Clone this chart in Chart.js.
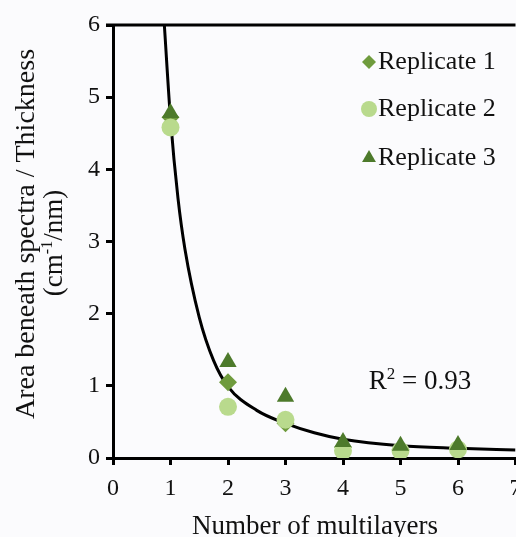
<!DOCTYPE html>
<html>
<head>
<meta charset="utf-8">
<script src="https://cdn.jsdelivr.net/npm/chart.js@4/dist/chart.umd.min.js"></script>
<style>
    html, body { margin: 0; padding: 0; background: #fbfbfd; overflow: hidden; }
    #wrap { width: 540px; height: 537px; }
</style>
</head>
<body>
<div id="wrap"><canvas id="grafica" width="540" height="537"></canvas></div>
<script>
// Datos
const multicapas = [1, 2, 3, 4, 5, 6];
const replica1 = [4.72, 1.05, 0.48, 0.15, 0.12, 0.14];
const replica2 = [4.58, 0.71, 0.53, 0.10, 0.10, 0.12];
const replica3 = [4.78, 1.33, 0.85, 0.22, 0.17, 0.18];

// Línea de tendencia (potencial)
const tendenciaX = [0.893, 1, 1.13, 1.25, 1.5, 1.75, 2, 2.5, 3, 3.5, 4, 5, 6, 7];
const tendenciaY = [6.0, 4.7, 3.6, 2.9, 1.95, 1.35, 0.99, 0.66, 0.48, 0.35, 0.26, 0.17, 0.135, 0.11];

const ticksX = [0, 1, 2, 3, 4, 5, 6, 7];
const ticksY = [0, 1, 2, 3, 4, 5, 6];

const COLORES = {
    diamante: '#6f9b3d',
    circulo: '#b9da8d',
    triangulo: '#4d7a2b',
    linea: '#000000',
    texto: '#111111'
};

const FUENTE = "'Liberation Serif', 'Times New Roman', serif";

const puntos = (ys) => multicapas.map((x, i) => ({ x: x, y: ys[i] }));

// Dibuja texto por segmentos (para superíndices)
function textoSegmentos(ctx, segmentos, x, y, align) {
    let ancho = 0;
    segmentos.forEach(s => {
        ctx.font = s.size + 'px ' + FUENTE;
        ancho += ctx.measureText(s.t).width;
    });
    let cx = align === 'center' ? x - ancho / 2 : x;
    ctx.textAlign = 'left';
    segmentos.forEach(s => {
        ctx.font = s.size + 'px ' + FUENTE;
        ctx.fillText(s.t, cx, y - (s.up || 0));
        cx += ctx.measureText(s.t).width;
    });
}

const extras = {
    id: 'extras',
    afterDraw(chart) {
        const ctx = chart.ctx;
        const area = chart.chartArea;
        ctx.save();

        // borde superior
        ctx.strokeStyle = '#000';
        ctx.lineWidth = 3;
        ctx.beginPath();
        ctx.moveTo(area.left - 7, area.top);
        ctx.lineTo(area.right, area.top);
        ctx.stroke();

        // título eje X
        ctx.fillStyle = COLORES.texto;
        ctx.textBaseline = 'alphabetic';
        textoSegmentos(ctx, [{ t: 'Number of multilayers', size: 27 }], 315, 534, 'center');

        // título eje Y
        ctx.textBaseline = 'middle';
        ctx.save();
        ctx.translate(27, 234);
        ctx.rotate(-Math.PI / 2);
        textoSegmentos(ctx, [{ t: 'Area beneath spectra / Thickness', size: 28 }], 0, 0, 'center');
        ctx.restore();
        ctx.save();
        ctx.translate(55, 243);
        ctx.rotate(-Math.PI / 2);
        textoSegmentos(ctx, [
            { t: '(cm', size: 27 },
            { t: '-1', size: 16, up: 7 },
            { t: '/nm)', size: 27 }
        ], 0, 0, 'center');
        ctx.restore();

        // leyenda
        const filas = [
            { texto: 'Replicate 1', estilo: 'rectRot', color: COLORES.diamante, r: 7, y: 62 },
            { texto: 'Replicate 2', estilo: 'circle', color: COLORES.circulo, r: 8, y: 109 },
            { texto: 'Replicate 3', estilo: 'triangle', color: COLORES.triangulo, r: 8, y: 158 }
        ];
        filas.forEach(f => {
            ctx.fillStyle = f.color;
            ctx.strokeStyle = f.color;
            Chart.helpers.drawPoint(ctx, { pointStyle: f.estilo, radius: f.r, borderWidth: 0 }, 369, f.y);
            ctx.fillStyle = COLORES.texto;
            ctx.textBaseline = 'middle';
            textoSegmentos(ctx, [{ t: f.texto, size: 26 }], 378, f.y, 'left');
        });

        // R²
        ctx.textBaseline = 'middle';
        textoSegmentos(ctx, [
            { t: 'R', size: 27 },
            { t: '2', size: 17, up: 7 },
            { t: ' = 0.93', size: 27 }
        ], 420, 382, 'center');

        ctx.restore();
    }
};

const datasetPunto = (etiqueta, datos, estilo, color, radio, orden) => ({
    type: 'scatter',
    label: etiqueta,
    data: puntos(datos),
    pointStyle: estilo,
    pointRadius: radio,
    pointHoverRadius: radio,
    backgroundColor: color,
    borderColor: color,
    borderWidth: 0,
    order: orden
});

new Chart(document.getElementById('grafica'), {
    type: 'scatter',
    data: {
        datasets: [
            datasetPunto('Replicate 3', replica3, 'triangle', COLORES.triangulo, 10, 0),
            datasetPunto('Replicate 2', replica2, 'circle', COLORES.circulo, 9, 1),
            datasetPunto('Replicate 1', replica1, 'rectRot', COLORES.diamante, 9, 2),
            {
                type: 'line',
                label: 'Tendencia',
                data: tendenciaX.map((x, i) => ({ x: x, y: tendenciaY[i] })),
                borderColor: COLORES.linea,
                borderWidth: 3,
                pointRadius: 0,
                cubicInterpolationMode: 'monotone',
                fill: false,
                order: 3
            }
        ]
    },
    options: {
        responsive: false,
        animation: false,
        layout: { padding: { left: 0, top: 25, right: 24.5, bottom: 0 } },
        plugins: {
            legend: { display: false },
            tooltip: { enabled: false }
        },
        scales: {
            x: {
                type: 'linear',
                min: 0,
                max: 7,
                afterBuildTicks: (s) => { s.ticks = ticksX.map(v => ({ value: v })); },
                afterFit: (s) => { s.height = 79; },
                border: { display: true, color: '#000', width: 3 },
                grid: { drawOnChartArea: false, drawTicks: true, tickLength: 7, color: '#000', lineWidth: 3 },
                ticks: { color: COLORES.texto, padding: 9, font: { family: FUENTE, size: 24 } }
            },
            y: {
                type: 'linear',
                min: 0,
                max: 6,
                afterBuildTicks: (s) => { s.ticks = ticksY.map(v => ({ value: v })); },
                afterFit: (s) => { s.width = 113; },
                border: { display: true, color: '#000', width: 3 },
                grid: { drawOnChartArea: false, drawTicks: true, tickLength: 7, color: '#000', lineWidth: 3 },
                ticks: { color: COLORES.texto, padding: 6, font: { family: FUENTE, size: 24 } }
            }
        }
    },
    plugins: [extras]
});
</script>
</body>
</html>
